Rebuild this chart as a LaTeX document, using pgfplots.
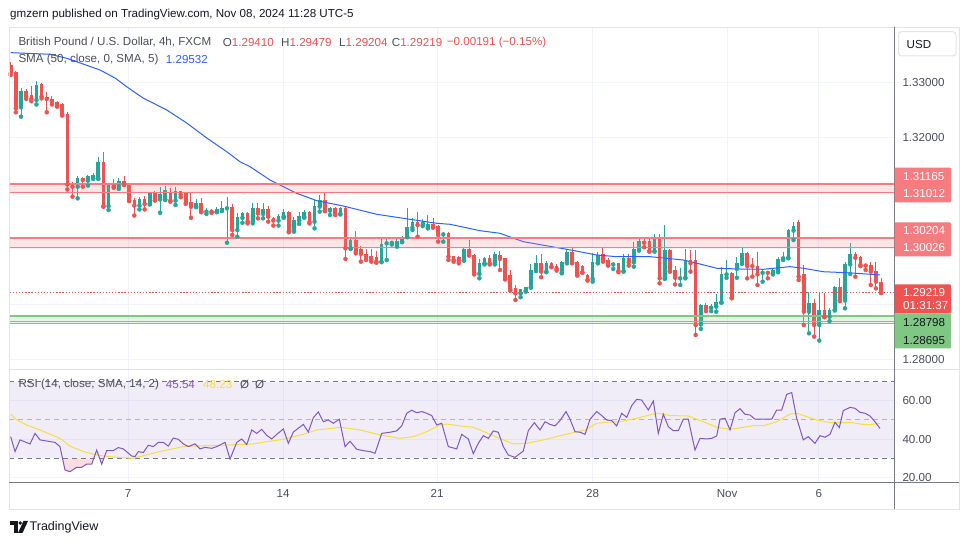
\documentclass[border=0pt]{standalone}
\usepackage{pgfplots}
\pgfplotsset{compat=1.18}
\usepackage{pgfplotstable}
\usepackage{fontspec}
\setmainfont{Liberation Sans}

\definecolor{up}{RGB}{38,166,154}
\definecolor{dn}{RGB}{239,83,80}
\definecolor{zred}{RGB}{247,124,128}
\definecolor{zgreen}{RGB}{129,199,132}
\definecolor{gridc}{RGB}{240,243,250}
\definecolor{axc}{RGB}{120,123,134}
\definecolor{txt}{RGB}{19,23,34}
\definecolor{lbl}{RGB}{74,78,90}
\definecolor{smac}{RGB}{41,98,255}
\definecolor{rsic}{RGB}{126,87,194}
\definecolor{rsima}{RGB}{247,222,60}
\definecolor{framec}{RGB}{224,227,235}
\definecolor{pinkc}{RGB}{252,220,224}
\definecolor{midc}{RGB}{178,181,190}

\newcommand{\myfs}{\fontsize{11.6}{13}\selectfont}

% green (rising) candles: index, open, high, low, close
\pgfplotstableread{
i o h l c
2 1.3255 1.3290 1.3238 1.3285
5 1.3268 1.3302 1.3260 1.3295
13 1.3112 1.3131 1.3091 1.3127
15 1.3123 1.3133 1.3114 1.3131
16 1.3127 1.3136 1.3126 1.3133
17 1.3127 1.3166 1.3126 1.3157
19 1.3077 1.3119 1.3070 1.3117
21 1.3113 1.3127 1.3108 1.3123
25 1.3078 1.3094 1.3071 1.3089
27 1.3081 1.3102 1.3080 1.3100
29 1.3089 1.3112 1.3065 1.3098
30 1.3089 1.3114 1.3088 1.3106
32 1.3087 1.3112 1.3079 1.3104
36 1.3076 1.3090 1.3075 1.3082
38 1.3067 1.3074 1.3063 1.3070
40 1.3067 1.3076 1.3066 1.3072
41 1.3070 1.3087 1.3068 1.3074
42 1.3073 1.3094 1.3011 1.3076
44 1.3034 1.3065 1.3022 1.3058
45 1.3056 1.3066 1.3047 1.3064
47 1.3049 1.3082 1.3046 1.3073
49 1.3063 1.3082 1.3055 1.3071
52 1.3051 1.3063 1.3042 1.3059
53 1.3058 1.3072 1.3056 1.3066
55 1.3033 1.3058 1.3031 1.3052
56 1.3051 1.3066 1.3045 1.3060
57 1.3058 1.3070 1.3056 1.3067
59 1.3049 1.3088 1.3037 1.3077
60 1.3076 1.3097 1.3067 1.3088
62 1.3069 1.3075 1.3061 1.3074
64 1.3063 1.3075 1.3062 1.3074
66 1.3001 1.3020 1.3000 1.3016
72 1.2977 1.3022 1.2976 1.3009
73 1.3010 1.3021 1.2980 1.3012
74 1.3011 1.3015 1.3008 1.3013
75 1.3009 1.3021 1.3004 1.3015
76 1.3013 1.3024 1.3012 1.3022
77 1.3022 1.3073 1.3021 1.3040
78 1.3038 1.3055 1.3034 1.3049
80 1.3043 1.3053 1.3041 1.3048
81 1.3038 1.3061 1.3037 1.3044
84 1.3026 1.3031 1.3013 1.3029
88 1.2979 1.3001 1.2979 1.3000
91 1.2955 1.2982 1.2947 1.2974
92 1.2974 1.2986 1.2972 1.2984
94 1.2974 1.2994 1.2972 1.2990
99 1.2920 1.2928 1.2913 1.2927
100 1.2925 1.2932 1.2923 1.2931
101 1.2931 1.2973 1.2930 1.2962
102 1.2961 1.2989 1.2960 1.2975
104 1.2959 1.2978 1.2958 1.2975
107 1.2957 1.2979 1.2956 1.2976
108 1.2976 1.2998 1.2974 1.2994
113 1.2946 1.2992 1.2941 1.2977
114 1.2975 1.2995 1.2974 1.2989
117 1.2972 1.2975 1.2964 1.2974
119 1.2960 1.2991 1.2959 1.2984
121 1.2976 1.3013 1.2968 1.3000
122 1.2998 1.3020 1.2997 1.3014
125 1.2996 1.3026 1.2995 1.3017
127 1.2947 1.3043 1.2946 1.2998
130 1.2947 1.2965 1.2935 1.2950
131 1.2948 1.3000 1.2947 1.2980
134 1.2864 1.2901 1.2856 1.2899
136 1.2894 1.2901 1.2888 1.2897
137 1.2896 1.2919 1.2887 1.2904
138 1.2904 1.2968 1.2903 1.2954
139 1.2954 1.2980 1.2948 1.2957
141 1.2964 1.2985 1.2948 1.2974
142 1.2974 1.3001 1.2973 1.2993
146 1.2957 1.2962 1.2941 1.2959
148 1.2956 1.2964 1.2954 1.2962
149 1.2959 1.2985 1.2958 1.2982
150 1.2983 1.2995 1.2980 1.2985
151 1.2984 1.3035 1.2983 1.3034
152 1.3033 1.3049 1.3016 1.3041
155 1.2887 1.2923 1.2848 1.2902
157 1.2863 1.2920 1.2835 1.2890
159 1.2878 1.2893 1.2870 1.2890
160 1.2890 1.2934 1.2889 1.2931
162 1.2907 1.2977 1.2893 1.2972
163 1.2972 1.3010 1.2955 1.2991
}\upc

% red (falling) candles: index, open, high, low, close
\pgfplotstableread{
i o h l c
0 1.3331 1.3337 1.3313 1.3316
1 1.3319 1.3320 1.3246 1.3253
3 1.3285 1.3288 1.3270 1.3274
4 1.3277 1.3294 1.3266 1.3270
6 1.3296 1.3298 1.3271 1.3274
7 1.3274 1.3283 1.3246 1.3270
8 1.3270 1.3275 1.3260 1.3265
9 1.3265 1.3267 1.3256 1.3258
10 1.3260 1.3263 1.3240 1.3242
11 1.3243 1.3246 1.3107 1.3116
12 1.3116 1.3121 1.3094 1.3112
14 1.3127 1.3130 1.3112 1.3124
18 1.3157 1.3175 1.3076 1.3077
20 1.3116 1.3125 1.3110 1.3112
22 1.3123 1.3131 1.3115 1.3116
23 1.3116 1.3118 1.3086 1.3087
24 1.3088 1.3091 1.3060 1.3078
26 1.3089 1.3096 1.3071 1.3081
28 1.3100 1.3105 1.3087 1.3088
31 1.3100 1.3110 1.3085 1.3087
33 1.3104 1.3105 1.3093 1.3098
34 1.3101 1.3103 1.3081 1.3083
35 1.3085 1.3103 1.3056 1.3076
37 1.3082 1.3092 1.3066 1.3067
39 1.3070 1.3072 1.3065 1.3067
43 1.3076 1.3080 1.3025 1.3034
46 1.3065 1.3067 1.3046 1.3049
48 1.3073 1.3082 1.3055 1.3064
50 1.3071 1.3078 1.3049 1.3058
51 1.3055 1.3058 1.3042 1.3051
54 1.3067 1.3068 1.3030 1.3031
58 1.3067 1.3069 1.3046 1.3048
61 1.3088 1.3102 1.3068 1.3069
63 1.3074 1.3075 1.3061 1.3063
65 1.3074 1.3077 1.2982 1.3001
67 1.3016 1.3033 1.2992 1.2995
68 1.2999 1.3006 1.2977 1.2991
69 1.2991 1.3000 1.2980 1.2985
70 1.2987 1.3000 1.2977 1.2981
71 1.2985 1.2996 1.2975 1.2977
79 1.3049 1.3066 1.3022 1.3043
82 1.3045 1.3055 1.3038 1.3041
83 1.3041 1.3043 1.3013 1.3025
85 1.3029 1.3030 1.2980 1.2986
86 1.2987 1.2988 1.2977 1.2980
87 1.2985 1.2988 1.2974 1.2979
89 1.3000 1.3016 1.2988 1.2989
90 1.2989 1.2990 1.2954 1.2956
93 1.2983 1.2989 1.2972 1.2974
95 1.2989 1.2996 1.2962 1.2982
96 1.2983 1.2984 1.2945 1.2947
97 1.2953 1.2962 1.2925 1.2927
98 1.2929 1.2935 1.2908 1.2920
103 1.2975 1.2991 1.2949 1.2959
105 1.2975 1.2977 1.2967 1.2968
106 1.2970 1.2973 1.2961 1.2964
109 1.2995 1.3002 1.2974 1.2975
110 1.2977 1.2979 1.2952 1.2953
111 1.2970 1.2971 1.2957 1.2958
112 1.2953 1.2955 1.2943 1.2944
115 1.2990 1.3002 1.2977 1.2978
116 1.2980 1.2983 1.2970 1.2971
118 1.2974 1.2975 1.2958 1.2960
120 1.2984 1.2990 1.2970 1.2976
123 1.3014 1.3020 1.3003 1.3011
124 1.3014 1.3020 1.2995 1.2996
126 1.3018 1.3027 1.2938 1.2947
128 1.2998 1.2999 1.2959 1.2960
129 1.2962 1.2970 1.2936 1.2948
132 1.2980 1.2998 1.2959 1.2974
133 1.2980 1.2998 1.2845 1.2863
135 1.2899 1.2902 1.2888 1.2893
140 1.2957 1.2958 1.2911 1.2912
143 1.2993 1.2995 1.2947 1.2969
144 1.2971 1.2984 1.2950 1.2969
145 1.2969 1.2995 1.2935 1.2954
147 1.2959 1.2960 1.2947 1.2957
153 1.3049 1.3052 1.2944 1.2950
154 1.2955 1.2971 1.2863 1.2887
156 1.2902 1.2910 1.2842 1.2863
158 1.2890 1.2920 1.2877 1.2878
161 1.2931 1.2947 1.2906 1.2907
164 1.2991 1.2994 1.2950 1.2984
165 1.2986 1.2988 1.2969 1.2971
166 1.2973 1.2973 1.2962 1.2970
167 1.2971 1.2977 1.2935 1.2959
168 1.2960 1.2977 1.2929 1.2941
169 1.29410 1.29479 1.29204 1.29219
}\dnc

% SMA 50
\pgfplotstableread{
i p
0 1.33533
7.63 1.33504
10.87 1.33432
14.04 1.33329
17.34 1.33221
20.25 1.33077
22.52 1.32920
25.69 1.32717
30.29 1.32501
34.17 1.32267
38.06 1.31997
41.94 1.31750
44.52 1.31570
46.47 1.31480
50.35 1.31241
55.53 1.31001
59.42 1.30868
64.58 1.30772
71.07 1.30623
77.53 1.30533
82.72 1.30461
85.3 1.30443
91.13 1.30328
95.0 1.30281
99.53 1.30130
107.96 1.29993
113.79 1.29890
117.67 1.29860
124.14 1.29860
130.6 1.29800
133.84 1.29728
137.09 1.29651
141.61 1.29638
146.14 1.29633
151.32 1.29680
153.9 1.29651
157.79 1.29589
162.33 1.29571
168.79 1.29532
}\sma

% RSI 14
\pgfplotstableread{
i r
0 41.3
0.84 33.5
1.81 39.6
3.75 37.5
4.72 43.0
5.69 39.6
8.6 38.3
9.57 36.1
10.54 23.9
11.51 23.0
12.82 25.3
13.79 25.3
14.76 27.0
15.73 26.9
16.7 34.3
17.67 26.9
18.64 34.0
19.92 34.0
20.89 35.6
21.86 34.9
23.5 31.2
24.14 30.9
24.78 33.5
25.75 33.0
26.72 36.8
27.69 36.1
28.66 38.3
29.63 38.3
30.6 36.4
31.58 40.6
32.55 39.9
33.52 37.5
34.49 36.1
35.79 37.5
36.76 34.9
37.73 35.7
39.03 35.2
40.0 36.1
41.62 38.3
42.59 29.6
43.89 38.3
44.86 40.1
45.83 37.1
46.8 44.8
47.77 43.0
48.74 45.1
49.71 42.0
50.68 40.1
51.66 42.5
52.94 45.3
53.91 37.8
54.88 43.7
55.85 45.7
56.82 47.7
57.79 43.7
58.76 51.2
59.73 54.2
60.7 49.1
61.68 50.0
62.65 48.3
63.81 50.4
64.92 36.1
65.88 38.9
67.19 34.7
68.47 34.0
69.77 33.5
70.74 32.6
72.04 43.0
73.65 43.6
74.95 44.3
75.92 46.9
76.89 53.5
77.86 55.1
78.83 53.8
79.81 54.4
80.78 53.5
81.75 52.3
82.72 47.4
83.69 48.3
84.97 36.1
86.6 34.9
87.57 42.5
88.85 40.1
89.82 32.4
90.79 37.8
91.77 41.8
92.74 40.4
93.71 44.3
94.68 43.6
95.65 36.1
96.62 31.7
97.92 30.5
99.53 33.8
100.5 44.4
101.67 48.6
102.78 44.8
103.75 49.1
104.72 47.7
105.69 46.9
106.66 49.7
107.83 54.4
108.6 50.4
109.57 43.9
110.55 43.6
111.52 42.5
112.49 50.4
113.79 54.4
114.76 52.3
115.73 50.0
116.7 49.7
117.67 46.9
118.64 53.5
119.61 51.4
120.58 57.5
121.55 60.8
122.52 60.4
123.8 55.2
124.78 59.9
125.75 43.0
126.72 53.0
127.69 46.5
128.66 44.4
129.63 44.4
130.6 50.4
131.57 50.4
132.87 34.3
133.84 40.4
135.14 40.1
136.12 40.4
137.09 41.7
137.72 50.4
138.7 50.9
139.67 44.8
140.64 53.8
141.61 55.9
142.58 53.0
143.55 52.6
144.52 50.4
146.14 50.4
147.76 50.4
148.73 55.2
149.7 55.2
150.68 63.4
151.65 64.3
152.62 50.9
153.9 39.6
154.87 41.3
156.17 37.8
157.14 41.8
158.11 41.0
159.08 42.5
160.05 48.8
160.89 46.0
161.66 54.9
162.97 56.6
163.94 56.1
164.91 54.0
165.88 53.5
166.85 52.1
167.82 49.1
168.79 45.54
}\rsi

% RSI-based moving average
\pgfplotstableread{
i r
0 53.0
1.17 50.0
3.11 47.4
5.69 44.8
9.57 40.4
11.51 36.4
14.1 33.5
17.34 31.4
20.58 30.5
23.81 30.0
27.05 32.3
30.29 34.3
33.52 36.1
38.06 36.6
43.22 37.0
47.11 37.5
49.71 38.7
52.94 39.9
54.88 41.3
56.82 42.5
59.42 44.8
62.65 45.7
63.94 46.2
67.82 44.8
71.71 42.2
75.59 40.4
78.18 41.3
80.78 43.9
83.36 47.4
84.66 47.9
87.24 46.9
89.82 46.2
91.13 44.8
93.33 42.2
95.65 39.6
97.59 37.5
100.19 37.8
103.42 39.6
107.3 42.2
111.52 44.8
113.79 48.3
115.73 48.8
118.31 49.1
121.55 50.9
124.78 53.1
126.08 53.5
128.02 52.3
131.57 52.1
134.49 49.1
137.09 46.2
139.67 45.1
144.19 47.0
146.14 47.0
148.73 49.1
151.32 53.1
152.62 53.5
156.5 50.0
159.08 48.6
162.97 48.8
166.21 47.4
168.79 48.23
}\rsima

\pgfplotsset{
  tvaxis/.style={
    anchor=south west, scale only axis, width=884pt,
    xmin=-0.136, xmax=171.51,
    axis line style={draw=none}, tick style={draw=none},
    major tick length=0pt,
    xtick={22.8,52.9,82.8,113,139.1,156.9},
    grid=major, grid style={gridc, line width=1pt},
    tick label style={font=\myfs, text=lbl},
    yticklabel pos=right,
    yticklabel style={anchor=west, xshift=5pt},
    clip=true,
  }
}

\begin{document}
\begin{tikzpicture}[x=1pt,y=1pt]
\path[use as bounding box] (0,0) rectangle (970,545);
\fill[white] (0,0) rectangle (970,545);

% ---------- price panel ----------
\begin{axis}[tvaxis, at={(10pt,175.5pt)}, height=342pt,
  ymin=1.278286, ymax=1.339863,
  xticklabels={},
  ytick={1.28,1.29,1.30,1.31,1.32,1.33},
  yticklabels={1.28000,,,,1.32000,1.33000}]
% wicks and bodies
\addplot[only marks, mark=none, up, error bars/.cd, y dir=plus, y explicit, error mark=none,
  error bar style={line width=1pt}] table[x=i, y=l, y error expr=\thisrow{h}-\thisrow{l}] {\upc};
\addplot[only marks, mark=none, up, error bars/.cd, y dir=plus, y explicit, error mark=none,
  error bar style={line width=3.6pt}] table[x=i, y=o, y error expr=\thisrow{c}-\thisrow{o}] {\upc};
\addplot[only marks, mark=none, dn, error bars/.cd, y dir=plus, y explicit, error mark=none,
  error bar style={line width=1pt}] table[x=i, y=l, y error expr=\thisrow{h}-\thisrow{l}] {\dnc};
\addplot[only marks, mark=none, dn, error bars/.cd, y dir=plus, y explicit, error mark=none,
  error bar style={line width=3.6pt}] table[x=i, y=c, y error expr=\thisrow{o}-\thisrow{c}] {\dnc};
% SMA
\addplot[smac, line width=1pt, mark=none] table[x=i, y=p] {\sma};
% zones
\addplot[draw=none, fill=zred, fill opacity=0.2] coordinates {(-2,1.31012) (175,1.31012) (175,1.31165) (-2,1.31165)} -- cycle;
\addplot[zred, line width=2pt, mark=none] coordinates {(-2,1.31165) (175,1.31165)};
\addplot[zred, line width=1.3pt, mark=none] coordinates {(-2,1.31012) (175,1.31012)};
\addplot[draw=none, fill=zred, fill opacity=0.2] coordinates {(-2,1.30026) (175,1.30026) (175,1.30204) (-2,1.30204)} -- cycle;
\addplot[zred, line width=2pt, mark=none] coordinates {(-2,1.30204) (175,1.30204)};
\addplot[zred, line width=1.3pt, mark=none] coordinates {(-2,1.30026) (175,1.30026)};
\addplot[draw=none, fill=zgreen, fill opacity=0.2] coordinates {(-2,1.28660) (175,1.28660) (175,1.28798) (-2,1.28798)} -- cycle;
\addplot[zgreen, line width=1.8pt, mark=none] coordinates {(-2,1.28798) (175,1.28798)};
\addplot[zgreen, line width=1pt, mark=none] coordinates {(-2,1.28695) (175,1.28695)};
\addplot[zgreen, line width=1pt, mark=none] coordinates {(-2,1.28660) (175,1.28660)};
% last price line
\addplot[dn, line width=1pt, mark=none, dash pattern=on 1.3pt off 1.8pt] coordinates {(-2,1.29219) (175,1.29219)};
\end{axis}

% ---------- RSI panel ----------
\begin{axis}[tvaxis, at={(10pt,62.5pt)}, height=113pt,
  ymin=17.36, ymax=76.37,
  xticklabels={7,14,21,28,Nov,6},
  xticklabel style={yshift=-3pt},
  ytick={20,40,60},
  yticklabels={20.00,40.00,60.00}]
\addplot[draw=none, fill=rsic, fill opacity=0.1] coordinates {(-2,30) (175,30) (175,70) (-2,70)} -- cycle;
\addplot[draw=none, fill=pinkc] coordinates {(10.05,30) (10.54,23.9) (11.51,23.0) (12.82,25.3) (13.79,25.3) (14.76,27.0) (15.73,26.9) (16.14,30)} -- cycle;
\addplot[draw=none, fill=pinkc] coordinates {(17.26,30) (17.67,26.9) (18.1,30)} -- cycle;
\addplot[axc, line width=1pt, mark=none, dash pattern=on 5pt off 4pt] coordinates {(-2,70) (175,70)};
\addplot[axc, line width=1pt, mark=none, dash pattern=on 5pt off 4pt] coordinates {(-2,30) (175,30)};
\addplot[midc, line width=1pt, mark=none, dash pattern=on 5pt off 4pt] coordinates {(-2,50) (175,50)};
\addplot[rsima, line width=1pt, mark=none] table[x=i, y=r] {\rsima};
\addplot[rsic, line width=1pt, mark=none] table[x=i, y=r] {\rsi};
\end{axis}

% ---------- frame and separators ----------
\draw[framec, line width=1pt] (9,517.5) rectangle (959,35.5);
\draw[framec, line width=1pt] (9,175.5) -- (959,175.5);
\draw[axc, line width=1pt] (894,517.5) -- (894,35.5);
\draw[axc, line width=1pt] (9,62.5) -- (959,62.5);

% USD box
\draw[framec, line width=1pt, rounded corners=3pt] (898.5,513.3) rectangle (956,489);
\node[anchor=west, inner sep=0pt, font=\myfs, text=txt] at (906.5,500.8) {USD};

% right price labels
\fill[zred, rounded corners=1pt] (894.5,377.3) rectangle (951,342.7);
\node[anchor=west, inner sep=0pt, font=\myfs, text=white] at (903,368.5) {1.31165};
\node[anchor=west, inner sep=0pt, font=\myfs, text=white] at (903,351.4) {1.31012};
\fill[zred, rounded corners=1pt] (894.5,322.7) rectangle (951,288.7);
\node[anchor=west, inner sep=0pt, font=\myfs, text=white] at (903,314) {1.30204};
\node[anchor=west, inner sep=0pt, font=\myfs, text=white] at (903,297.2) {1.30026};
\fill[dn, rounded corners=1pt] (894.5,260.7) rectangle (951,231.7);
\node[anchor=west, inner sep=0pt, font=\myfs, text=white] at (903,252.6) {1.29219};
\node[anchor=west, inner sep=0pt, font=\myfs, text=white] at (903,239) {01:31:37};
\fill[zgreen, rounded corners=1pt] (894.5,231.7) rectangle (951,196.7);
\node[anchor=west, inner sep=0pt, font=\myfs, text=txt] at (903,222.2) {1.28798};
\node[anchor=west, inner sep=0pt, font=\myfs, text=txt] at (903,204.5) {1.28695};

% header
\node[anchor=west, inner sep=0pt, font=\myfs, text=txt] at (10,530) {gmzern published on TradingView.com, Nov 08, 2024 11:28 UTC-5};

% legends
\node[anchor=west, inner sep=0pt, font=\myfs, text=lbl] at (18.3,502.7) {British Pound / U.S. Dollar, 4h, FXCM};
\node[anchor=west, inner sep=0pt, font=\myfs] at (222.7,502.7) {\textcolor{lbl}{O}\textcolor{dn}{1.29410}};
\node[anchor=west, inner sep=0pt, font=\myfs] at (281,502.7) {\textcolor{lbl}{H}\textcolor{dn}{1.29479}};
\node[anchor=west, inner sep=0pt, font=\myfs] at (339,502.7) {\textcolor{lbl}{L}\textcolor{dn}{1.29204}};
\node[anchor=west, inner sep=0pt, font=\myfs] at (391.7,502.7) {\textcolor{lbl}{C}\textcolor{dn}{1.29219}};
\node[anchor=west, inner sep=0pt, font=\myfs, text=dn] at (446.7,502.7) {−0.00191 (−0.15\%)};
\node[anchor=west, inner sep=0pt, font=\myfs, text=lbl] at (18.3,485.7) {SMA (50, close, 0, SMA, 5)};
\node[anchor=west, inner sep=0pt, font=\myfs, text=smac] at (165.7,485.7) {1.29532};

\node[anchor=west, inner sep=0pt, font=\myfs, text=lbl] at (18.3,160) {RSI (14, close, SMA, 14, 2)};
\node[anchor=west, inner sep=0pt, font=\myfs, text=rsic] at (165.7,160) {45.54};
\node[anchor=west, inner sep=0pt, font=\myfs, text=rsima] at (203,160) {48.23};
\node[anchor=west, inner sep=0pt, font=\myfs, text=lbl] at (240,160) {Ø};
\node[anchor=west, inner sep=0pt, font=\myfs, text=lbl] at (255,160) {Ø};

% footer logo
\fill[txt] (10,24) rectangle (17.5,20.3);
\fill[txt] (13.8,20.3) rectangle (17.5,12);
\fill[txt] (20.2,22) circle (1.9);
\fill[txt] (23.5,24) -- (28,24) -- (22.5,12) -- (18,12) -- cycle;
\node[anchor=west, inner sep=0pt, font=\fontsize{12.5}{14}\selectfont, text=txt] at (29.5,18) {TradingView};
\end{tikzpicture}
\end{document}
